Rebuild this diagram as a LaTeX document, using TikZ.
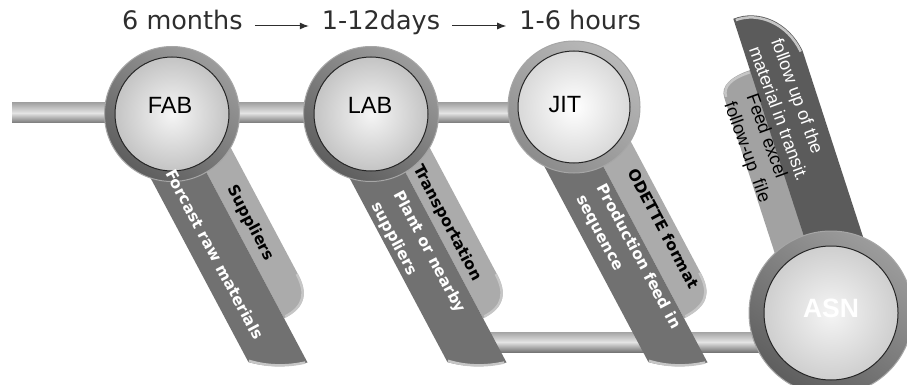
\documentclass[tikz,border=0pt]{standalone}
\usepackage{fontspec}
\usepackage{tikz}
\usetikzlibrary{shapes,arrows,positioning,calc,arrows.meta}
\newfontfamily\topfont{DejaVu Sans}
\newfontfamily\hubfont{Liberation Sans}
\newfontfamily\tabfont{DejaVu Sans}
\definecolor{ringdark}{HTML}{5E5E5E}
\definecolor{ringlight}{HTML}{9C9C9C}
\definecolor{facein}{HTML}{F5F5F5}
\definecolor{faceout}{HTML}{C4C4C4}
\definecolor{tabdark}{HTML}{717171}
\definecolor{tablight}{HTML}{ABABAB}
\definecolor{asndark}{HTML}{5B5B5B}
\definecolor{asnlight}{HTML}{A2A2A2}
\definecolor{barlight}{HTML}{E4E4E4}
\definecolor{bartop}{HTML}{A4A4A4}
\definecolor{barbottom}{HTML}{767676}
\definecolor{txtgray}{HTML}{2E2E2E}

\tikzset{
  period/.style={font=\topfont\fontsize{25.5}{30}\selectfont, text=txtgray, inner sep=0pt, text height=0.76em, text depth=0pt},
  timearrow/.style={-{Latex[length=9pt,width=7pt]}, line width=1pt, draw=txtgray, shorten <=12pt, shorten >=13pt},
  bar/.style={top color=bartop, bottom color=barbottom, middle color=barlight},
  ring/.style={circle, inner sep=0pt, minimum size=135pt, top color=ringlight, bottom color=ringdark, shading angle=-35, draw=gray!70, line width=1pt},
  face/.style={circle, inner sep=0pt, minimum size=114pt, inner color=facein, outer color=faceout, draw=black!85, line width=1pt},
  hub/.style={font=\hubfont\fontsize{23.5}{28}\selectfont, inner sep=0pt},
  rim/.style={draw=gray!45, line width=2.5pt},
  tabtext/.style={font=\tabfont\bfseries\fontsize{15.5}{23}\selectfont, inner sep=0pt, rotate=-62, align=left},
  asntext/.style={font=\hubfont\fontsize{18}{23.5}\selectfont, inner sep=0pt, rotate=-70, align=left}
}

\begin{document}
\begin{tikzpicture}[x=1pt, y=-1pt]
\useasboundingbox (0,0) rectangle (907,385);

% hub centres and free ends of the bars
\coordinate (fabc) at (172,114);
\coordinate (labc) at (371,114);
\coordinate (jitc) at (574,107);
\coordinate (asnc) at (831,313);
\coordinate (bar0) at (12,113);
\coordinate (bar1) at (478,342);

% time line
\node[period, anchor=west] (m6) at (122,26) {6 months};
\node[period, right=79pt of m6] (d12) {1-12days};
\node[period, right=79pt of d12] (h6) {1-6 hours};
\draw[timearrow] (m6) -- (d12);
\draw[timearrow] (d12) -- (h6);

% bars
\shade[bar] ($(bar0)+(0,-10)$) rectangle ($(jitc |- bar0)+(0,10)$);
\shade[bar] ($(bar1)+(0,-10)$) rectangle ($(asnc |- bar1)+(0,10)$);

% tabs under FAB, LAB, JIT
\begin{scope}[shift={(fabc)}, rotate=-62]
  \fill[tablight] (0,-3) -- (233,-3) .. controls (233,-28) and (222,-36) .. (200,-36) -- (0,-36) -- cycle;
  \fill[tabdark] (0,-3) -- (283,-3) .. controls (278,17) and (269,34) .. (255,49) -- (0,49) -- cycle;
  \draw[rim] (232,-5) .. controls (232,-27) and (221,-35) .. (200,-35);
  \draw[rim] (282,-1) .. controls (277,17) and (268,34) .. (254,48);
\end{scope}
\begin{scope}[shift={(labc)}, rotate=-62]
  \fill[tablight] (0,-3) -- (233,-3) .. controls (233,-28) and (222,-36) .. (200,-36) -- (0,-36) -- cycle;
  \fill[tabdark] (0,-3) -- (283,-3) .. controls (278,17) and (269,34) .. (255,49) -- (0,49) -- cycle;
  \draw[rim] (232,-5) .. controls (232,-27) and (221,-35) .. (200,-35);
  \draw[rim] (282,-1) .. controls (277,17) and (268,34) .. (254,48);
\end{scope}
\begin{scope}[shift={([shift={(-2,7)}]jitc)}, rotate=-62]
  \fill[tablight] (0,-3) -- (233,-3) .. controls (233,-30) and (224,-39) .. (200,-39) -- (0,-39) -- cycle;
  \fill[tabdark] (0,-3) -- (283,-3) .. controls (278,17) and (269,34) .. (255,49) -- (0,49) -- cycle;
  \draw[rim] (232,-5) .. controls (232,-29) and (223,-38) .. (200,-38);
  \draw[rim] (282,-1) .. controls (277,17) and (268,34) .. (254,48);
\end{scope}

% tab above ASN
\begin{scope}[shift={(asnc)}, rotate=108]
  \fill[asnlight] (0,-1) -- (256,-1) .. controls (256,-22) and (250,-35) .. (238,-35) -- (0,-35) -- cycle;
  \fill[asndark] (0,-2) -- (310,-2) .. controls (312,25) and (290,50) .. (258,54) -- (0,54) -- cycle;
  \draw[rim] (254,-3) .. controls (254,-22) and (249,-33) .. (238,-33);
  \draw[rim] (308,0) .. controls (309,24) and (289,48) .. (258,52);
\end{scope}

% hubs
\node[ring] (fabring) at (fabc) {};
\node[face] (fabface) at (fabc) {};
\node[ring] (labring) at (labc) {};
\node[face] (labface) at (labc) {};
\node[ring, minimum size=132pt, top color=gray!55, bottom color=gray!90, shading angle=-35] (jitring) at (jitc) {};
\node[face, minimum size=112pt, inner color=white, outer color=gray!30] (jitface) at (jitc) {};
\node[ring, minimum size=164pt] (asnring) at (asnc) {};
\node[face, minimum size=134pt, inner color=gray!8, outer color=gray!38] (asnface) at (asnc) {};

\node[hub] (fab) at (170,105) {FAB};
\node[hub] (lab) at (370,105) {LAB};
\node[hub] (jit) at (565,105) {JIT};
\node[hub, text=white, font=\hubfont\bfseries\fontsize{26.5}{30}\selectfont] (asn) at (831,308) {ASN};

% tab texts
\begin{scope}[shift={(fabc)}, rotate=-62]
  \node[tabtext, text=white] (fabdark) at (144,28) {Forcast raw materials};
  \node[tabtext] (fablight) at (133,-18) {Suppliers};
\end{scope}
\begin{scope}[shift={(labc)}, rotate=-62]
  \node[tabtext, text=white] (labdark) at (149,26) {Plant or nearby\\[2pt]suppliers};
  \node[tabtext] (lablight) at (132,-16) {Transportation};
\end{scope}
\begin{scope}[shift={([shift={(-2,7)}]jitc)}, rotate=-62]
  \node[tabtext, text=white] (jitdark) at (157,20) {Production feed in\\sequence};
  \node[tabtext] (jitlight) at (144,-27) {ODETTE format};
\end{scope}
\begin{scope}[shift={(asnc)}, rotate=108]
  \node[asntext, text=white] (asndark) at (206,24) {follow up of the\\material in transit.};
  \node[asntext] (asnlight) at (179,-19) {Feed excel\\follow-up\ \ file};
\end{scope}
\end{tikzpicture}
\end{document}
